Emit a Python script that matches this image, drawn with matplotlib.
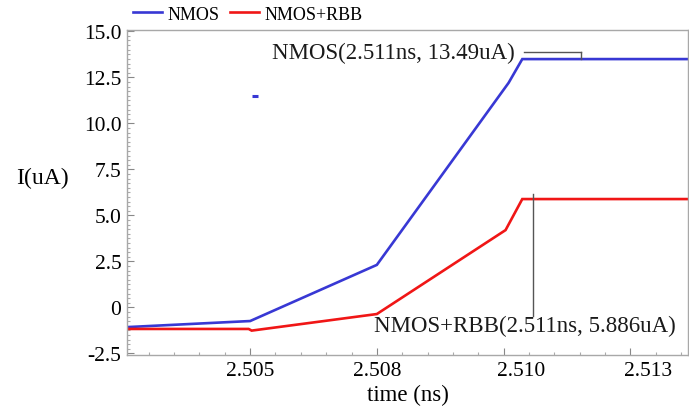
import matplotlib
matplotlib.use("Agg")
import matplotlib.pyplot as plt
import matplotlib.transforms as mtransforms
from matplotlib.ticker import FixedLocator, AutoMinorLocator, FixedFormatter

plt.rcParams["font.family"] = ["Liberation Serif", "DejaVu Serif"]

# Transient drain current, NMOS vs NMOS with reverse body bias
t_nmos = [2.50257, 2.50500, 2.50750, 2.51010, 2.51037, 2.51364]
i_nmos = [-1.07, -0.74, 2.31, 12.2, 13.49, 13.49]

t_rbb = [2.50257, 2.50497, 2.50503, 2.50750, 2.51004, 2.51037, 2.51364]
i_rbb = [-1.17, -1.17, -1.26, -0.36, 4.2, 5.886, 5.886]

# stray sample point drawn by the simulator
t_stray = [2.50510]
i_stray = [11.48]

# cursor readouts
cursor_nmos = (2.51152, 13.49)
cursor_rbb = (2.51059, 5.886)

x_ticks = [2.505, 2.5075, 2.510, 2.5125]
x_labels = ["2.505", "2.508", "2.510", "2.513"]
y_ticks = [-2.5, 0, 2.5, 5.0, 7.5, 10.0, 12.5, 15.0]
y_labels = ["-2.5", "0", "2.5", "5.0", "7.5", "10.0", "12.5", "15.0"]

blue = "#3838d4"
red = "#f01616"
frame = "#a8a8a8"

fig = plt.figure(figsize=(6.89, 4.10), dpi=100)
ax = fig.add_axes([127 / 689, 1 - 356 / 410, 561 / 689, 325 / 410])

ax.plot(t_nmos, i_nmos, color=blue, lw=1.9, label="NMOS", solid_joinstyle="miter")
ax.plot(t_rbb, i_rbb, color=red, lw=1.9, label="NMOS+RBB", solid_joinstyle="miter")
ax.plot(t_stray, i_stray, color=blue, marker="_", ms=4, mew=2.2, ls="none")

ax.set_xlim(2.50257, 2.51364)
ax.set_ylim(-2.585, 15.07)

ax.xaxis.set_major_locator(FixedLocator(x_ticks))
ax.xaxis.set_major_formatter(FixedFormatter(x_labels))
ax.xaxis.set_minor_locator(AutoMinorLocator(5))
ax.yaxis.set_major_locator(FixedLocator(y_ticks))
ax.yaxis.set_major_formatter(FixedFormatter(y_labels))
ax.yaxis.set_minor_locator(AutoMinorLocator(10))

ax.tick_params(axis="both", which="major", direction="in", length=5, width=0.8,
               color="#888888", labelsize=15.5, pad=4)
ax.tick_params(axis="both", which="minor", direction="in", length=2.5, width=0.8,
               color="#aaaaaa")

for s in ax.spines.values():
    s.set_color(frame)
    s.set_linewidth(1.0)

# shift the last two time labels slightly to the right
shift = mtransforms.ScaledTranslation(0.18, 0, fig.dpi_scale_trans)
for lbl in ax.get_xticklabels()[2:]:
    lbl.set_transform(lbl.get_transform() + shift)

# cursor for NMOS
bx, by = cursor_nmos
top = by + 0.38
ax.plot([bx, bx], [by, top], color="#555555", lw=1.0)
ax.plot([2.51040, bx], [top, top], color="#555555", lw=1.0)
ax.text(2.51022, top, "NMOS(2.511ns, 13.49uA)", ha="right", va="center",
        fontsize=16.5, color="#1a1a1a")

# cursor for NMOS+RBB
rx, ry = cursor_rbb
ax.plot([rx, rx], [ry + 0.28, -0.47], color="#555555", lw=1.0)
ax.text(2.51042, -0.97, "NMOS+RBB(2.511ns, 5.886uA)", ha="center", va="center",
        fontsize=16.5, color="#1a1a1a")

fig.text(42 / 689, 1 - 178 / 410, "I(uA)", ha="center", va="center", fontsize=17)
fig.text(408 / 689, 1 - 395 / 410, "time (ns)", ha="center", va="center", fontsize=16.5)

fig.legend(loc="center", bbox_to_anchor=(248 / 689, 1 - 15 / 410), ncol=2,
           frameon=False, fontsize=13, handlelength=1.6, handletextpad=0.3,
           columnspacing=0.6, borderaxespad=0)

fig.savefig("out.png", dpi=100)
